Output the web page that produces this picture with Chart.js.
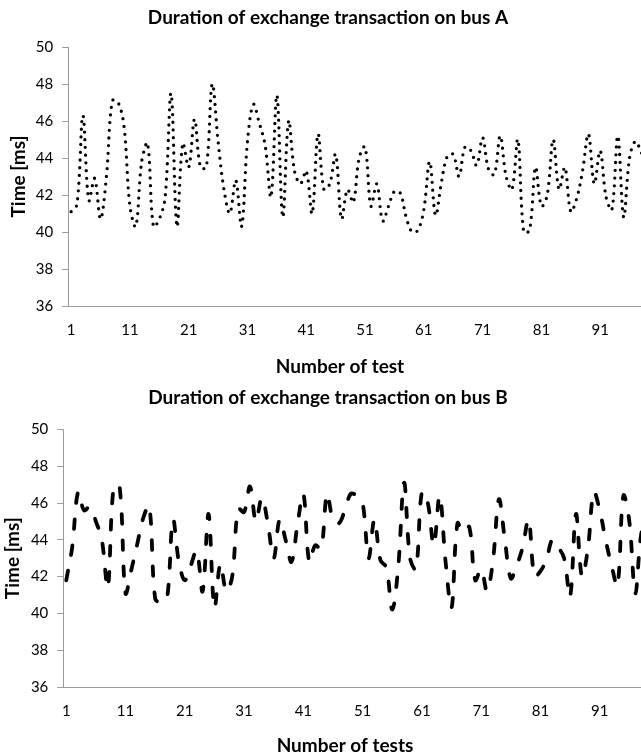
<!DOCTYPE html>
<html>
<head>
<meta charset="utf-8">
<script src="https://cdn.jsdelivr.net/npm/chart.js@4.4.1/dist/chart.umd.min.js"></script>
<style>
  html, body { margin: 0; padding: 0; background: #ffffff; overflow: hidden; }
  #page { position: relative; width: 641px; height: 754px; overflow: hidden; background: #ffffff; }
  .panel { position: absolute; left: 0; }
  #panelA { top: 0; }
  #panelB { top: 385px; }
</style>
</head>
<body>
<div id="page">
  <div class="panel" id="panelA"><canvas id="busA" width="656" height="385"></canvas></div>
  <div class="panel" id="panelB"><canvas id="busB" width="656" height="380"></canvas></div>
</div>
<script>
// Test numbers on the category axis and the ones that carry a visible label
const testNumbers = Array.from({ length: 100 }, (_, i) => String(i + 1));
const labelledTests = ['1', '11', '21', '31', '41', '51', '61', '71', '81', '91'];

// Time axis ticks [ms]
const timeTicks = [36, 38, 40, 42, 44, 46, 48, 50];

// Measured duration of one exchange transaction [ms], bus A
const busATimes = [
  41.1, 41.5, 46.3, 41.7, 42.9, 40.7, 43.0, 47.1, 47.0, 45.7,
  41.4, 40.3, 43.8, 44.8, 40.3, 40.7, 41.9, 47.5, 40.3, 44.8,
  43.5, 46.1, 43.5, 43.5, 48.0, 44.9, 42.3, 41.0, 42.8, 40.3,
  44.9, 46.9, 45.9, 44.7, 41.9, 47.4, 40.8, 46.0, 43.3, 42.6,
  43.3, 41.0, 45.3, 42.3, 42.6, 44.2, 40.7, 42.3, 41.6, 44.0,
  44.6, 41.4, 42.6, 40.6, 41.4, 42.2, 42.1, 40.8, 40.0, 40.1,
  41.2, 43.8, 40.9, 42.7, 44.1, 44.2, 43.0, 44.6, 44.4, 43.6,
  45.1, 43.4, 43.1, 45.2, 43.0, 42.3, 45.0, 40.0, 40.1, 43.5,
  41.4, 42.0, 45.0, 42.3, 43.5, 41.1, 41.8, 43.3, 45.3, 42.6,
  44.4, 41.9, 41.2, 45.2, 40.8, 44.0, 44.9, 44.3, 43.6, 44.2
];

// Measured duration of one exchange transaction [ms], bus B
const busBTimes = [
  41.8, 43.6, 46.6, 45.6, 45.8, 45.0, 44.0, 41.4, 46.9, 46.9,
  41.1, 42.4, 43.8, 45.2, 45.85, 40.8, 40.6, 40.8, 45.1, 42.8,
  41.8, 42.6, 43.4, 41.2, 45.4, 40.3, 42.7, 41.2, 42.0, 45.7,
  45.5, 46.9, 45.0, 46.3, 44.9, 43.0, 45.1, 44.0, 42.8, 44.8,
  46.5, 42.8, 43.7, 43.5, 46.5, 45.1, 44.9, 45.6, 46.5, 46.4,
  46.0, 43.0, 45.1, 42.9, 42.5, 40.2, 42.5, 47.1, 43.0, 42.4,
  46.6, 46.0, 43.7, 46.4, 42.8, 40.3, 44.9, 44.4, 44.7, 41.8,
  42.4, 41.2, 42.9, 46.2, 44.0, 41.9, 42.6, 43.6, 45.1, 42.0,
  42.3, 42.9, 44.0, 43.6, 43.0, 40.9, 45.4, 42.0, 43.5, 46.6,
  45.6, 44.0, 42.6, 41.5, 46.4, 45.0, 41.1, 44.3, 45.3, 42.0
];

const FONT = 'Lato, "Liberation Sans", sans-serif';
const AXIS_GREY = '#9a9a9a';

// Caption under the category axis, placed at a fixed point of the canvas
const xCaption = {
  id: 'xCaption',
  afterDraw(chart, args, opts) {
    if (!opts || !opts.text) return;
    const ctx = chart.ctx;
    ctx.save();
    ctx.font = opts.font;
    ctx.fillStyle = '#000000';
    ctx.textAlign = 'center';
    ctx.textBaseline = 'middle';
    ctx.fillText(opts.text, opts.x, opts.y);
    ctx.restore();
  }
};

function durationChart(canvasId, title, values, lineStyle, frame) {
  return new Chart(document.getElementById(canvasId), {
    type: 'line',
    data: {
      labels: testNumbers,
      datasets: [{
        data: values,
        borderColor: '#000000',
        borderWidth: lineStyle.width,
        borderDash: lineStyle.dash,
        borderCapStyle: 'round',
        borderJoinStyle: 'round',
        tension: 0.36,
        pointRadius: 0,
        pointHoverRadius: 0,
        fill: false
      }]
    },
    options: {
      responsive: false,
      animation: false,
      events: [],
      layout: { padding: 0 },
      plugins: {
        legend: { display: false },
        tooltip: { enabled: false },
        title: {
          display: true,
          text: title,
          color: '#000000',
          font: { family: FONT, size: 19, weight: 'bold', lineHeight: 1.2 },
          padding: { top: frame.titleTop, bottom: frame.titleBottom }
        },
        xCaption: {
          text: frame.xTitle,
          x: frame.xTitleX,
          y: frame.xTitleY,
          font: 'bold 19px ' + FONT
        }
      },
      scales: {
        x: {
          type: 'category',
          offset: true,
          afterFit(scale) { scale.height = frame.xHeight; },
          grid: { display: true, drawOnChartArea: false, drawTicks: false, color: 'rgba(0,0,0,0)' },
          border: { display: true, color: AXIS_GREY, width: 1 },
          ticks: {
            autoSkip: false,
            maxRotation: 0,
            minRotation: 0,
            padding: frame.xTickPad,
            color: '#000000',
            font: { family: FONT, size: 15 },
            callback(value) {
              const lab = this.getLabelForValue(value);
              return labelledTests.includes(lab) ? lab : null;
            }
          }
        },
        y: {
          min: timeTicks[0],
          max: timeTicks[timeTicks.length - 1],
          afterFit(scale) { scale.width = frame.yWidth; },
          afterBuildTicks(scale) { scale.ticks = timeTicks.map(v => ({ value: v })); },
          grid: { display: true, drawOnChartArea: false, drawTicks: true, tickLength: 6, color: AXIS_GREY },
          border: { display: true, color: AXIS_GREY, width: 1 },
          ticks: {
            padding: 9,
            color: '#000000',
            font: { family: FONT, size: 15 }
          },
          title: {
            display: true,
            text: 'Time [ms]',
            color: '#000000',
            font: { family: FONT, size: 19, weight: 'bold', lineHeight: 1.2 },
            padding: { top: frame.yTitlePad, bottom: 0 }
          }
        }
      }
    },
    plugins: [xCaption]
  });
}

durationChart('busA', 'Duration of exchange transaction on bus A', busATimes,
  { width: 3.3, dash: [0, 7.7] },
  { titleTop: 6, titleBottom: 18.2, xHeight: 79, xTickPad: 15, yWidth: 68.2, yTitlePad: 7,
    xTitle: 'Number of test', xTitleX: 340, xTitleY: 367 });

durationChart('busB', 'Duration of exchange transaction on bus B', busBTimes,
  { width: 3.8, dash: [9.5, 16.5] },
  { titleTop: 1.5, titleBottom: 20.1, xHeight: 78, xTickPad: 15, yWidth: 63.3, yTitlePad: 1,
    xTitle: 'Number of tests', xTitleX: 345, xTitleY: 361 });
</script>
</body>
</html>
